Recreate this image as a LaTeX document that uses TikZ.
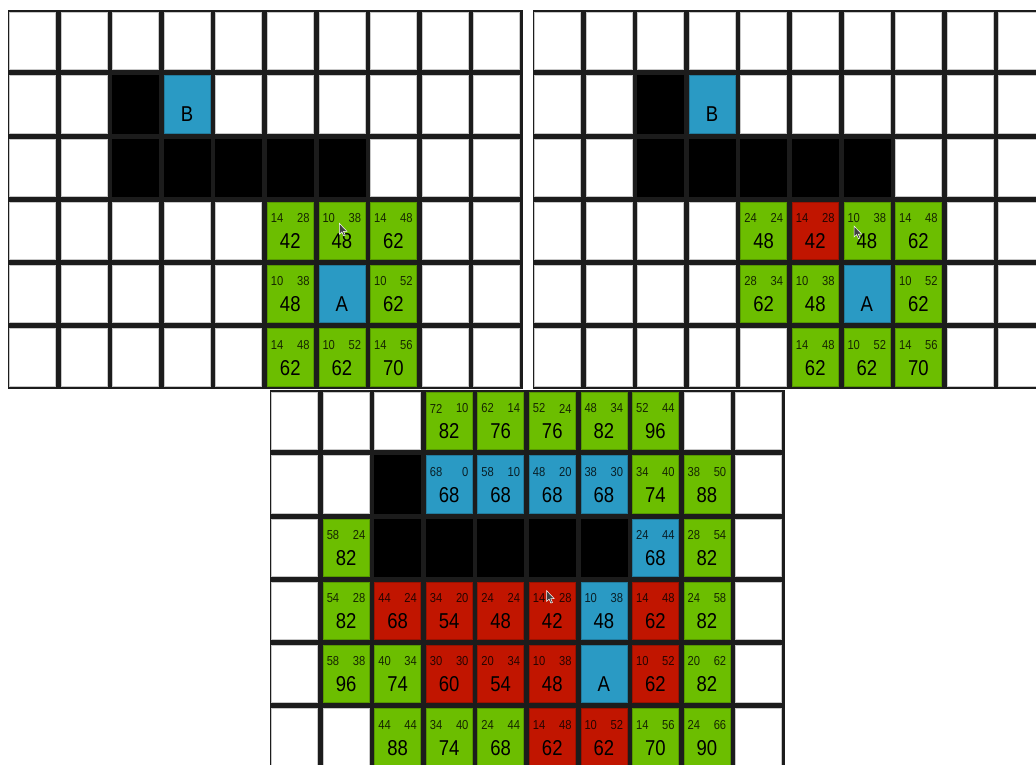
\documentclass[tikz,border=0pt]{standalone}
\usepackage{fontspec}
\newfontfamily\cellfont[FakeStretch=0.86]{Liberation Sans}
\definecolor{openclr}{RGB}{108,190,0}
\definecolor{closedclr}{RGB}{193,21,0}
\definecolor{routeclr}{RGB}{42,154,196}
\definecolor{gridclr}{RGB}{28,28,28}

\newcommand{\blankcells}{\foreach \c in {0,...,9} {\foreach \r in {0,...,5} {\node[blankcell] (c\c\r) at (\c,\r) {};}}}
\newcommand{\wallcell}[2]{\node[wallbox] (c#1#2) at (#1,#2) {};}
\newcommand{\lettercell}[3]{%
  \node[routecell] (c#1#2) at (#1,#2) {};
  \node[fval] at ([yshift=-38.5pt]c#1#2.north) {#3};}
\newcommand{\costcell}[6]{%
  \node[#1] (c#2#3) at (#2,#3) {};
  \node[gval, anchor=west] at ([xshift=3.5pt, yshift=-16pt]c#2#3.north west) {#4};
  \node[gval, anchor=east] at ([xshift=-3.5pt, yshift=-16pt]c#2#3.north east) {#5};
  \node[fval] at ([yshift=-39pt]c#2#3.north) {#6};}
\newcommand{\pointer}[1]{\filldraw[fill=black!75, draw=white, line width=0.5pt, shift={#1}]
  (0,0) -- (0,11) -- (2.6,8.6) -- (4.4,12.6) -- (6,11.9) -- (4.2,8) -- (7.6,8) -- cycle;}

\begin{document}
\begin{tikzpicture}[x=1pt, y=-1pt,
    blankcell/.style={draw=black!22, line width=0.6pt, fill=white, minimum width=46pt,
        minimum height=57.25pt, inner sep=0pt, outer sep=0pt},
    wallbox/.style={blankcell, fill=black, draw=black},
    opencell/.style={blankcell, fill=openclr, draw=openclr!80!black},
    closedcell/.style={blankcell, fill=closedclr, draw=closedclr!80!black},
    routecell/.style={blankcell, fill=routeclr, draw=routeclr!80!black},
    gval/.style={font=\cellfont\fontsize{13pt}{14pt}\selectfont, inner sep=0pt, text opacity=0.8},
    fval/.style={font=\cellfont\fontsize{21.5pt}{22pt}\selectfont, inner sep=0pt}]
\useasboundingbox (0,0) rectangle (1036,765);
\clip (0,0) rectangle (1036,765);
\fill[white] (0,0) rectangle (1036,765);

% first step
\fill[gridclr] (8,10) rectangle (523,389);
\begin{scope}[shift={(32.5,41.1)}, x=51.55pt, y=-63.25pt, name prefix=ga-]
  \blankcells
  \wallcell{2}{1}
  \lettercell{3}{1}{B}
  \foreach \c in {2,...,6} {\wallcell{\c}{2}}
  \costcell{opencell}{5}{3}{14}{28}{42}
  \costcell{opencell}{6}{3}{10}{38}{48}
  \costcell{opencell}{7}{3}{14}{48}{62}
  \costcell{opencell}{5}{4}{10}{38}{48}
  \lettercell{6}{4}{A}
  \costcell{opencell}{7}{4}{10}{52}{62}
  \costcell{opencell}{5}{5}{14}{48}{62}
  \costcell{opencell}{6}{5}{10}{52}{62}
  \costcell{opencell}{7}{5}{14}{56}{70}
\end{scope}
\pointer{(339.3,223.3)}

% second step
\fill[gridclr] (533,10) rectangle (1048,389);
\begin{scope}[shift={(557.5,41.1)}, x=51.55pt, y=-63.25pt, name prefix=gb-]
  \blankcells
  \wallcell{2}{1}
  \lettercell{3}{1}{B}
  \foreach \c in {2,...,6} {\wallcell{\c}{2}}
  \costcell{opencell}{4}{3}{24}{24}{48}
  \costcell{closedcell}{5}{3}{14}{28}{42}
  \costcell{opencell}{6}{3}{10}{38}{48}
  \costcell{opencell}{7}{3}{14}{48}{62}
  \costcell{opencell}{4}{4}{28}{34}{62}
  \costcell{opencell}{5}{4}{10}{38}{48}
  \lettercell{6}{4}{A}
  \costcell{opencell}{7}{4}{10}{52}{62}
  \costcell{opencell}{5}{5}{14}{48}{62}
  \costcell{opencell}{6}{5}{10}{52}{62}
  \costcell{opencell}{7}{5}{14}{56}{70}
\end{scope}
\pointer{(854,226)}

% path found
\fill[gridclr] (270,390) rectangle (785,770);
\begin{scope}[shift={(294.5,421.1)}, x=51.55pt, y=-63.25pt, name prefix=gc-]
  \blankcells
  \costcell{opencell}{3}{0}{72}{10}{82}
  \costcell{opencell}{4}{0}{62}{14}{76}
  \costcell{opencell}{5}{0}{52}{24}{76}
  \costcell{opencell}{6}{0}{48}{34}{82}
  \costcell{opencell}{7}{0}{52}{44}{96}
  \wallcell{2}{1}
  \costcell{routecell}{3}{1}{68}{0}{68}
  \costcell{routecell}{4}{1}{58}{10}{68}
  \costcell{routecell}{5}{1}{48}{20}{68}
  \costcell{routecell}{6}{1}{38}{30}{68}
  \costcell{opencell}{7}{1}{34}{40}{74}
  \costcell{opencell}{8}{1}{38}{50}{88}
  \costcell{opencell}{1}{2}{58}{24}{82}
  \foreach \c in {2,...,6} {\wallcell{\c}{2}}
  \costcell{routecell}{7}{2}{24}{44}{68}
  \costcell{opencell}{8}{2}{28}{54}{82}
  \costcell{opencell}{1}{3}{54}{28}{82}
  \costcell{closedcell}{2}{3}{44}{24}{68}
  \costcell{closedcell}{3}{3}{34}{20}{54}
  \costcell{closedcell}{4}{3}{24}{24}{48}
  \costcell{closedcell}{5}{3}{14}{28}{42}
  \costcell{routecell}{6}{3}{10}{38}{48}
  \costcell{closedcell}{7}{3}{14}{48}{62}
  \costcell{opencell}{8}{3}{24}{58}{82}
  \costcell{opencell}{1}{4}{58}{38}{96}
  \costcell{opencell}{2}{4}{40}{34}{74}
  \costcell{closedcell}{3}{4}{30}{30}{60}
  \costcell{closedcell}{4}{4}{20}{34}{54}
  \costcell{closedcell}{5}{4}{10}{38}{48}
  \lettercell{6}{4}{A}
  \costcell{closedcell}{7}{4}{10}{52}{62}
  \costcell{opencell}{8}{4}{20}{62}{82}
  \costcell{opencell}{2}{5}{44}{44}{88}
  \costcell{opencell}{3}{5}{34}{40}{74}
  \costcell{opencell}{4}{5}{24}{44}{68}
  \costcell{closedcell}{5}{5}{14}{48}{62}
  \costcell{closedcell}{6}{5}{10}{52}{62}
  \costcell{opencell}{7}{5}{14}{56}{70}
  \costcell{opencell}{8}{5}{24}{66}{90}
\end{scope}
\pointer{(546.5,590.5)}
\end{tikzpicture}
\end{document}
